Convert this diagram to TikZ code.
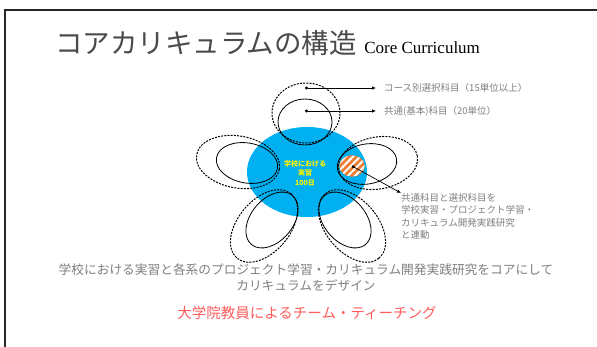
\documentclass[tikz,border=0pt]{standalone}
\usepackage{fontspec}
\setmainfont{Noto Sans CJK JP}
\newfontfamily\enserif{Liberation Serif}
\usetikzlibrary{shapes.geometric, positioning, arrows.meta, patterns.meta}
\definecolor{coreblue}{HTML}{00B0F0}
\definecolor{hatchorange}{HTML}{ED7D31}
\definecolor{notegray}{HTML}{7F7F7F}
\definecolor{titlegray}{HTML}{4A4A4A}
\definecolor{teamred}{HTML}{FF5B5B}

\begin{document}
\begin{tikzpicture}[x=1pt, y=-1pt,
    petal/.style 2 args={ellipse, draw, line width=0.8pt, inner sep=0pt, minimum width=#1, minimum height=#2},
    outerpetal/.style={dash pattern=on 2pt off 1.2pt, line width=1pt},
    note/.style={font=\fontsize{9.5}{12.5}\selectfont, text=notegray, inner sep=0pt},
    pointer/.style={{Circle[length=3pt]}-{Latex[length=4pt, width=3.5pt]}, line width=0.7pt}]

  \useasboundingbox (0,0) rectangle (597,347);

  % 枠
  \draw[line width=1.6pt, black!85] (597,10) -- (5,10) -- (5,347);

  % タイトル
  \node[anchor=base west, inner sep=0pt, text=titlegray, font=\fontsize{27.5}{30}\selectfont] (title) at (55,54) {コアカリキュラムの構造};
  \node[anchor=base west, inner sep=0pt, font=\enserif\fontsize{17}{19}\selectfont] (titleen) at ([xshift=7pt]title.base east) {Core Curriculum};

  % 中心の実習
  \node[ellipse, fill=coreblue, inner sep=0pt, minimum width=120, minimum height=90] (core) at (307,172) {};

  % 花びら（共通科目と選択科目）
  \node[petal={54}{46}] (topin) at (305,122) {};
  \node[petal={68}{60}, outerpetal] (topout) at (306,113) {};
  \node[petal={62}{40}, rotate=-10] (leftin) at (247,163) {};
  \node[petal={84}{52}, outerpetal, rotate=-10] (leftout) at (238,162) {};
  \node[petal={60}{40}, rotate=10] (rightin) at (367,164) {};
  \node[petal={80}{52}, outerpetal, rotate=10] (rightout) at (378,163) {};
  \node[petal={64}{42}, rotate=50] (blin) at (272,220) {};
  \node[petal={84}{52}, outerpetal, rotate=50] (blout) at (264,226) {};
  \node[petal={64}{42}, rotate=-50] (brin) at (345,220) {};
  \node[petal={84}{52}, outerpetal, rotate=-50] (brout) at (352,226) {};

  % 連動部分
  \node[ellipse, draw=hatchorange, fill=hatchorange, inner sep=0pt, minimum width=25, minimum height=21,
        postaction={pattern={Lines[angle=45, distance=5pt, line width=2pt]}, pattern color=white}] (overlap) at (352,166) {};

  \node[align=center, text=yellow, font=\bfseries\fontsize{7}{9.5}\selectfont] (practice) at (305,173) {学校における\\実習\\100日};

  % 説明
  \coordinate (coursept) at (305,88);
  \coordinate (commonpt) at (305,111);
  \node[note, anchor=west] (course) at (384,88) {コース別選択科目（15単位以上）};
  \node[note, anchor=west] (common) at (384,111) {共通(基本)科目（20単位）};
  \node[note, anchor=north west, align=left] (link) at (401,193) {共通科目と選択科目を\\学校実習・プロジェクト学習・\\カリキュラム開発実践研究\\と連動};

  \draw[pointer, shorten >=8pt] (coursept) -- (course.west);
  \draw[pointer, shorten >=8pt] (commonpt) -- (common.west);
  \draw[pointer] (overlap.center) -- (link.north west);

  % 下の文
  \node[align=center, text=notegray, font=\fontsize{12.7}{16}\selectfont] (caption) at (306,278) {学校における実習と各系のプロジェクト学習・カリキュラム開発実践研究をコアにして\\カリキュラムをデザイン};
  \node[text=teamred, font=\fontsize{14.5}{17}\selectfont] (team) at (307,313) {大学院教員によるチーム・ティーチング};

\end{tikzpicture}
\end{document}
